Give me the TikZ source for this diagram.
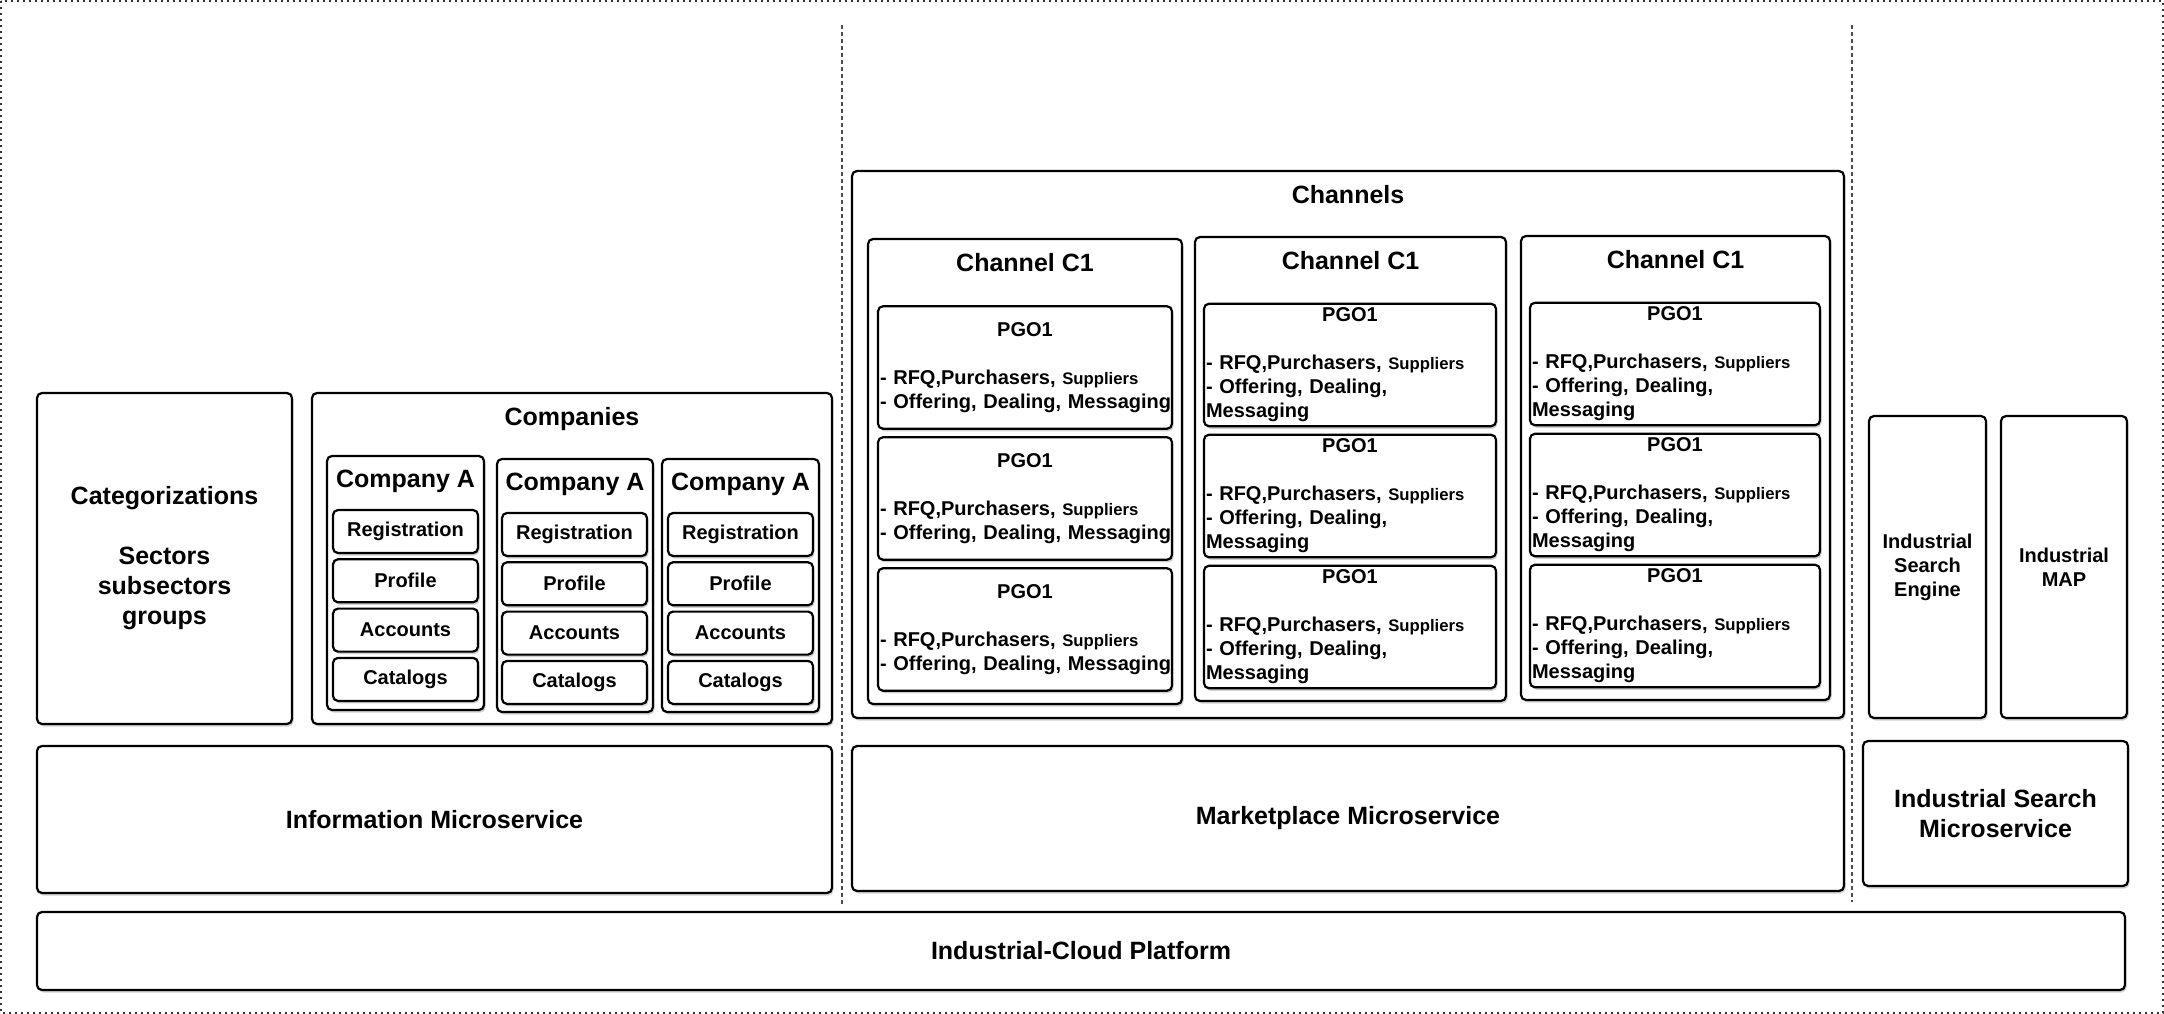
\documentclass[tikz,border=0pt]{standalone}
\usepackage{fontspec}
\setmainfont{Liberation Sans}
\usetikzlibrary{positioning,shadows}

\newcommand{\supp}{{\fontsize{16.7pt}{24pt}\selectfont Suppliers}}
\newcommand{\pgowide}{{\centering PGO1\par}\vspace{24pt}\noindent\mbox{- RFQ,Purchasers, \supp}\\\mbox{- Offering, Dealing, Messaging}}
\newcommand{\pgonarrow}{{\centering PGO1\par}\vspace{24pt}\noindent\mbox{- RFQ,Purchasers, \supp}\\\mbox{- Offering, Dealing,}\\Messaging}

\begin{document}
\begin{tikzpicture}[
       x=1pt, y=-1pt,
       box/.style={rectangle, draw=black, line width=2.2pt, rounded corners=5pt, fill=white, outer sep=0pt, inner sep=0pt, align=center, general shadow={fill=black!18, shadow xshift=1.5pt, shadow yshift=-2.5pt}},
       bigtext/.style={font=\bfseries\fontsize{25pt}{30pt}\selectfont},
       midtext/.style={font=\bfseries\fontsize{20pt}{24pt}\selectfont},
       layerbox/.style={box, bigtext},
       subbox/.style={box, midtext, minimum width=145pt, minimum height=43pt},
       pgo/.style={box, midtext, align=left, minimum height=122.5pt},
       boxtitle/.style={bigtext, anchor=north, inner sep=0pt, yshift=-14pt},
       divider/.style={black!70, line width=1.2pt, dash pattern=on 4pt off 3pt},
       outerframe/.style={black!80, line width=2pt, dash pattern=on 2pt off 4pt}
   ]
   \useasboundingbox (0,0) rectangle (2164,1014);
   \draw[outerframe] (1,1) rectangle (2163,1013);
   \draw[divider] (842,25) -- (842,904);
   \draw[divider] (1852,25) -- (1852,902);

   % information side
   \node[layerbox, minimum width=255pt, minimum height=331pt] (categ) at (164.5,558.5) {Categorizations\\[30pt]Sectors\\subsectors\\groups};
   \node[layerbox, minimum width=520pt, minimum height=331pt, label={[boxtitle]north:Companies}] (companies) at (572,558.5) {};

   \node[box, minimum width=157pt, minimum height=254pt, label={[boxtitle]north:Company A}] (compa) at (405.5,583) {};
   \node[subbox] (reg1) at (405.5,531.5) {Registration};
   \node[subbox, below=6.3pt of reg1] (prof1) {Profile};
   \node[subbox, below=6.3pt of prof1] (acc1) {Accounts};
   \node[subbox, below=6.3pt of acc1] (cat1) {Catalogs};

   \node[box, minimum width=156pt, minimum height=253pt, label={[boxtitle]north:Company A}] (compb) at (575,585.5) {};
   \node[subbox] (reg2) at (574.5,534.5) {Registration};
   \node[subbox, below=6.3pt of reg2] (prof2) {Profile};
   \node[subbox, below=6.3pt of prof2] (acc2) {Accounts};
   \node[subbox, below=6.3pt of acc2] (cat2) {Catalogs};

   \node[box, minimum width=157pt, minimum height=253pt, label={[boxtitle]north:Company A}] (compc) at (740.5,585.5) {};
   \node[subbox] (reg3) at (740.5,534.5) {Registration};
   \node[subbox, below=6.3pt of reg3] (prof3) {Profile};
   \node[subbox, below=6.3pt of prof3] (acc3) {Accounts};
   \node[subbox, below=6.3pt of acc3] (cat3) {Catalogs};

   % marketplace side
   \node[layerbox, minimum width=992pt, minimum height=547pt, label={[boxtitle]north:Channels}] (channels) at (1348,444.5) {};

   \node[box, minimum width=314pt, minimum height=465pt, label={[boxtitle]north:Channel C1}] (chana) at (1025,471.5) {};
   \node[pgo, minimum width=294pt, text width=290pt] (pgo11) at (1025,367.5) {\pgowide};
   \node[pgo, minimum width=294pt, text width=290pt, below=8.5pt of pgo11] (pgo12) {\pgowide};
   \node[pgo, minimum width=294pt, text width=290pt, below=8.5pt of pgo12] (pgo13) {\pgowide};

   \node[box, minimum width=311pt, minimum height=464pt, label={[boxtitle]north:Channel C1}] (chanb) at (1350.5,469) {};
   \node[pgo, minimum width=292pt, text width=288pt] (pgo21) at (1350,365) {\pgonarrow};
   \node[pgo, minimum width=292pt, text width=288pt, below=8.5pt of pgo21] (pgo22) {\pgonarrow};
   \node[pgo, minimum width=292pt, text width=288pt, below=8.5pt of pgo22] (pgo23) {\pgonarrow};

   \node[box, minimum width=309pt, minimum height=464pt, label={[boxtitle]north:Channel C1}] (chanc) at (1675.5,468) {};
   \node[pgo, minimum width=290pt, text width=286pt] (pgo31) at (1675,364) {\pgonarrow};
   \node[pgo, minimum width=290pt, text width=286pt, below=8.5pt of pgo31] (pgo32) {\pgonarrow};
   \node[pgo, minimum width=290pt, text width=286pt, below=8.5pt of pgo32] (pgo33) {\pgonarrow};

   % search side
   \node[box, midtext, minimum width=117pt, minimum height=302pt] (engine) at (1927.5,567) {Industrial\\Search\\Engine};
   \node[box, midtext, minimum width=126pt, minimum height=302pt] (map) at (2064,567) {Industrial\\MAP};

   % microservices and platform
   \node[layerbox, minimum width=795pt, minimum height=147pt] (info) at (434.5,819.5) {Information Microservice};
   \node[layerbox, minimum width=992pt, minimum height=145pt] (market) at (1348,818.5) {Marketplace Microservice};
   \node[layerbox, minimum width=265pt, minimum height=145pt] (search) at (1995.5,813.5) {Industrial Search\\Microservice};
   \node[layerbox, minimum width=2088pt, minimum height=78pt] (platform) at (1081,951) {Industrial-Cloud Platform};
   \end{tikzpicture}
\end{document}
